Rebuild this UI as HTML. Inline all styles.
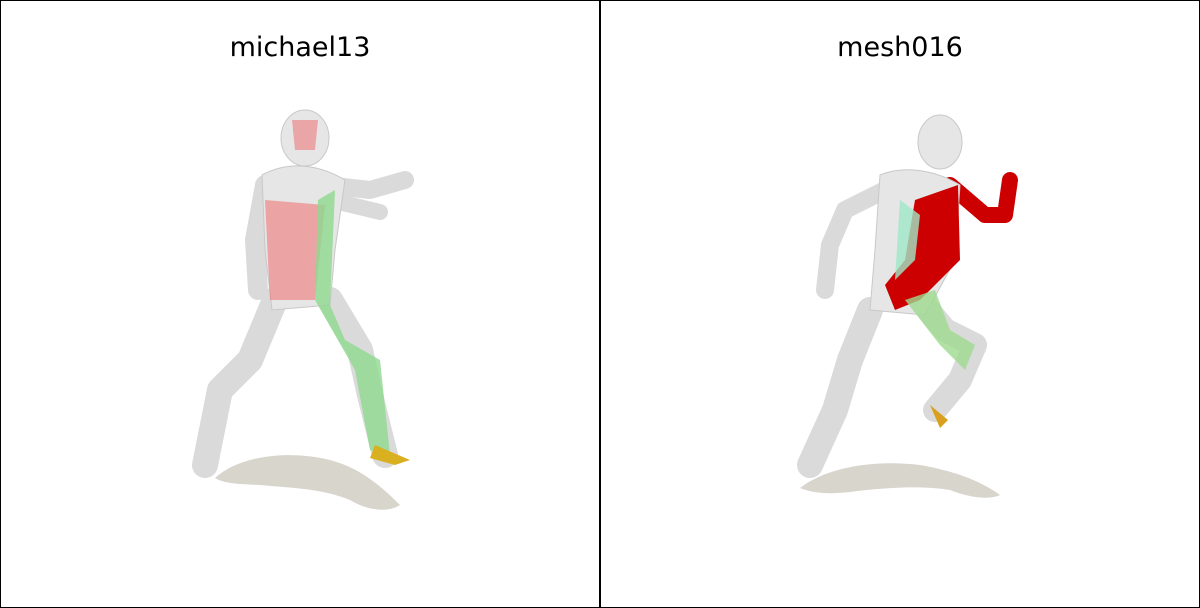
<!DOCTYPE html>
<html><head><meta charset="utf-8"><style>
html,body{margin:0;padding:0;background:#fff;}
svg{display:block;}
text{font-family:"DejaVu Sans","Liberation Sans",sans-serif;}
</style></head><body>
<svg width="1200" height="608" viewBox="0 0 1200 608">
<rect x="0.5" y="0.5" width="599" height="607" fill="#fff" stroke="#000" stroke-width="1"/>
<rect x="600.5" y="0.5" width="599" height="607" fill="#fff" stroke="#000" stroke-width="1"/>
<text x="300" y="56" font-size="27" text-anchor="middle" fill="#000">michael13</text>
<text x="900" y="56" font-size="27" text-anchor="middle" fill="#000">mesh016</text>

<g>
<path d="M215,478 C240,455 290,450 330,460 C360,468 380,485 400,505 C390,512 370,512 350,500 C320,488 290,488 260,485 C240,484 225,484 215,478Z" fill="#d8d5cd"/>
<g stroke="#dadada" stroke-linecap="round" stroke-linejoin="round" fill="none">
<path d="M275,300 L250,360 L220,390 L205,465" stroke-width="26"/>
<path d="M330,300 L360,350 L370,395 L385,455" stroke-width="26"/>
<path d="M265,185 L255,240 L258,290" stroke-width="20"/>
<path d="M325,185 L370,190 L405,180" stroke-width="18"/>
<path d="M330,200 L380,212" stroke-width="16"/>
</g>
<path d="M262,175 C290,160 320,165 345,180 L335,250 L330,305 L272,310 L265,250Z" fill="#e6e6e6" stroke="#c8c8c8"/>
<path d="M265,200 L325,205 L315,300 L270,300Z" fill="#e77" opacity="0.6"/>
<path d="M318,200 L335,190 L330,305 L345,340 L380,360 L390,455 L370,450 L355,370 L315,300Z" fill="#8fd88f" opacity="0.8"/>
<ellipse cx="305" cy="138" rx="24" ry="28" fill="#e6e6e6" stroke="#c8c8c8"/>
<path d="M292,120 L318,120 L315,150 L295,150Z" fill="#e66" opacity="0.5"/>
<path d="M375,445 L410,460 L395,465 L370,458Z" fill="#d9b020"/>
</g>

<g>
<path d="M800,488 C830,465 880,460 920,465 C950,470 980,480 1000,495 C990,500 970,498 950,490 C920,485 880,488 850,492 C830,494 815,494 800,488Z" fill="#d8d5cd"/>
<g stroke="#dadada" stroke-linecap="round" stroke-linejoin="round" fill="none">
<path d="M870,310 L850,360 L835,410 L810,465" stroke-width="26"/>
<path d="M920,300 L945,330 L975,345 L960,380 L935,410" stroke-width="24"/>
<path d="M885,190 L845,210 L830,245 L825,290" stroke-width="18"/>
</g>
<path d="M950,185 L985,215 L1005,215 L1010,180" stroke="#c00" stroke-width="16" fill="none" stroke-linecap="round" stroke-linejoin="round"/>
<path d="M880,175 C905,165 935,170 960,185 L955,260 L925,315 L870,310 L875,250Z" fill="#e6e6e6" stroke="#c8c8c8"/>
<path d="M915,200 L958,185 L960,260 L920,300 L895,310 L885,285 L905,260Z" fill="#cc0000"/>
<path d="M900,200 L920,215 L915,260 L895,280Z" fill="#9fe8c8" opacity="0.8"/>
<path d="M905,300 L935,290 L950,330 L975,345 L965,370 L940,345Z" fill="#9ed98e" opacity="0.8"/>
<ellipse cx="940" cy="142" rx="22" ry="27" fill="#e6e6e6" stroke="#c8c8c8"/>
<path d="M930,405 L948,420 L940,428Z" fill="#d9a020"/>
</g>
</svg>
</body></html>
